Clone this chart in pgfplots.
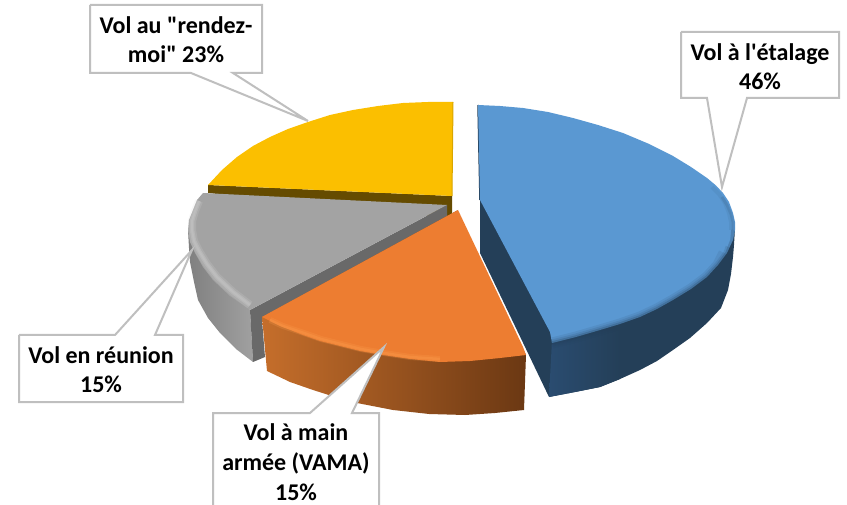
\documentclass[border=0pt]{standalone}
\usepackage{pgfplots}
\pgfplotsset{compat=1.18}
\usepackage{fontspec}
\newfontfamily\lab{Carlito}
\definecolor{lead}{HTML}{BFBFBF}
\definecolor{bd}{HTML}{243F58}
\definecolor{bd2}{HTML}{2A4C70}
\definecolor{bt}{HTML}{5A98D2}
\definecolor{yd}{HTML}{654B00}
\definecolor{yt}{HTML}{FBBF00}
\definecolor{ye}{HTML}{D9A600}
\definecolor{gs1}{HTML}{808080}
\definecolor{gs2}{HTML}{A0A0A0}
\definecolor{gd}{HTML}{696969}
\definecolor{gt}{HTML}{A3A3A3}
\definecolor{gl}{HTML}{D8D8D8}
\definecolor{os1}{HTML}{C56E2B}
\definecolor{os2}{HTML}{9C5420}
\definecolor{os3}{HTML}{6B3813}
\definecolor{ot}{HTML}{ED7D31}
\definecolor{ol}{HTML}{FFA050}
\begin{document}
\begin{tikzpicture}[x=1pt,y=1pt]
\useasboundingbox (0,0) rectangle (847pt,505pt);
\begin{axis}[at={(0,0)},anchor=south west,width=847pt,height=505pt,scale only axis,xmin=0,xmax=847,ymin=0,ymax=505,y dir=reverse,axis lines=none,
  every axis plot post/.append style={mark=none,sharp plot}]
% Blue side
\addplot[draw=none,fill=bd] coordinates {(480,200)(735,228)(734,245)(733,257)(731,274)(728,290)(721,308)(707,323)(690,338)(673,350)(657,361)(640,370)(620,379)(600,387)(575,392)(549,397)(480,253)};
\addplot[draw=none,left color=bd2,right color=bd] coordinates {(552,340)(620,320)(620,379)(600,387)(575,392)(549,397)};
\addplot[color=bd,line width=1.5pt] coordinates {(478,105)(480,200)};
% Blue top
\addplot[fill=bt,draw=none] coordinates {(478,105)(500,106)(523,108)(548,112)(573,118)(598,125)(623,133)(648,143.5)(673,156)(691,167)(707,178)(716,185.5)(723,193)(729,202)(733,213)(735,222)(735,230)(733,240)(727,253)(718,265)(707,277)(691,289)(673,300)(657,309)(640,317)(620,324)(600,330)(576,337)(552,343)(550,332)(480,200)};
\addplot[color=bd,opacity=.08,line width=4pt] coordinates {(712,187)(719,194)(725,203)(729,213)(731,222)(731,230)};
\addplot[color=bd,opacity=.14,line width=3pt] coordinates {(722,197)(727,205)(731,214)(733,222)(733,230)};
\addplot[color=bd,opacity=.10,line width=11pt] coordinates {(724,253)(718,265)(707,277)(691,289)(673,300)(657,309)(640,317)(620,324)(600,330)(576,337)(552,343)};
\addplot[color=bd,opacity=.14,line width=7pt] coordinates {(729,247)(727,253)(718,265)(707,277)(691,289)(673,300)(657,309)(640,317)(620,324)(600,330)(576,337)(552,343)};
\addplot[color=bd,opacity=.25,line width=3.5pt] coordinates {(733,230)(732,240)(727,253)(718,265)(707,277)(691,289)(673,300)(657,309)(640,317)(620,324)(600,330)(576,337)(552,343)};
% Yellow side
\addplot[fill=yd,draw=none] coordinates {(208,185)(452,196)(452,215)(447,218)(208,193)};
% Yellow top
\addplot[fill=yt,draw=none] coordinates {(453,102)(428,102)(403,103)(378,106)(353,110)(330,115)(308,122)(288,129)(270,137)(253,146)(237,157)(222,170)(208,185)(452,196)};
\addplot[color=ye,line width=1pt] coordinates {(453,102)(452,196)};
% Grey side
\addplot[draw=none,left color=gs1,right color=gs2] coordinates {(188,230)(189,248)(190,262)(194,282)(198,300)(208,318)(220,333)(236,349)(253,362)(250,310)};
% Grey cut face
\addplot[fill=gd,draw=none] coordinates {(447,205)(447,218)(458,212)(262,320)(265,357)(253,362)(250,310)};
% Grey top
\addplot[fill=gt,draw=none] coordinates {(203,193)(197,200)(193,210)(189,220)(188,230)(190,242)(195,253)(203,267)(213,280)(230,296)(250,310)(447,205)};
\addplot[color=gl,opacity=.18,line width=8pt] coordinates {(199,201)(195,211)(192,221)(192,230)(194,241)(199,251)(207,264)(217,277)(233,292)(250,305)};
\addplot[color=gl,opacity=.25,line width=4.5pt] coordinates {(199,201)(195,211)(192,221)(192,230)(194,241)(199,251)(207,264)(217,277)(233,292)(250,305)};
\addplot[color=gl,opacity=.2,line width=2pt] coordinates {(199,201)(195,211)(192,221)(192,230)(194,241)(199,251)(207,264)(217,277)(233,292)(250,305)};
% Orange side
\addplot[draw=none,left color=os1,middle color=os2,right color=os3] coordinates {(458,210)(526,355)(524,410)(495,413)(465,415)(429,414)(393,410)(357,403)(335,397)(313,390)(290,382)(267,371)(262,317)};
% White gap beside orange
\addplot[color=white,line width=1pt] coordinates {(458,210)(523,347)};
% Orange top
\addplot[fill=ot,draw=none] coordinates {(458,210)(523,347)(526,355)(500,358)(470,361)(440,362)(410,359)(383,355)(360,351)(340,346)(320,341)(303,335)(280,326)(262,317)};
\addplot[color=ol,opacity=.22,line width=6pt] coordinates {(270,320)(283,326)(304,333)(321,339)(341,344)(361,349)(384,353)(410,357)(440,359)};
\addplot[color=ol,opacity=.3,line width=2.5pt] coordinates {(270,320)(283,326)(304,333)(321,339)(341,344)(361,349)(384,353)(410,357)(440,359)};
% Callouts
\addplot[fill=white,draw=lead,line width=2pt] coordinates {(681,32)(839,32)(839,98)(747,98)(722,187)(707,98)(681,98)(681,32)};
\addplot[fill=white,draw=lead,line width=2pt] coordinates {(90,5)(262,5)(262,73)(233,73)(308,121)(191,73)(90,73)(90,5)};
\addplot[fill=white,draw=lead,line width=2pt] coordinates {(19,335)(115,335)(192,250)(155,335)(183,335)(183,402)(19,402)(19,335)};
\addplot[fill=white,draw=lead,line width=2pt] coordinates {(213,506)(213,413)(310,413)(384,347)(352,413)(379,413)(379,506)};
% Labels
\node[align=center,inner sep=0pt,font=\lab\bfseries\fontsize{24}{29}\selectfont] at (axis cs:760,67) {Vol à l'étalage\\46\%};
\node[align=center,inner sep=0pt,font=\lab\bfseries\fontsize{24}{29}\selectfont] at (axis cs:176,40) {Vol au "rendez-\\moi" 23\%};
\node[align=center,inner sep=0pt,font=\lab\bfseries\fontsize{24}{29}\selectfont] at (axis cs:101,370) {Vol en réunion\\15\%};
\node[align=center,inner sep=0pt,font=\lab\bfseries\fontsize{24}{30}\selectfont] at (axis cs:296,462) {Vol à main\\armée (VAMA)\\15\%};
\end{axis}
\end{tikzpicture}
\end{document}
